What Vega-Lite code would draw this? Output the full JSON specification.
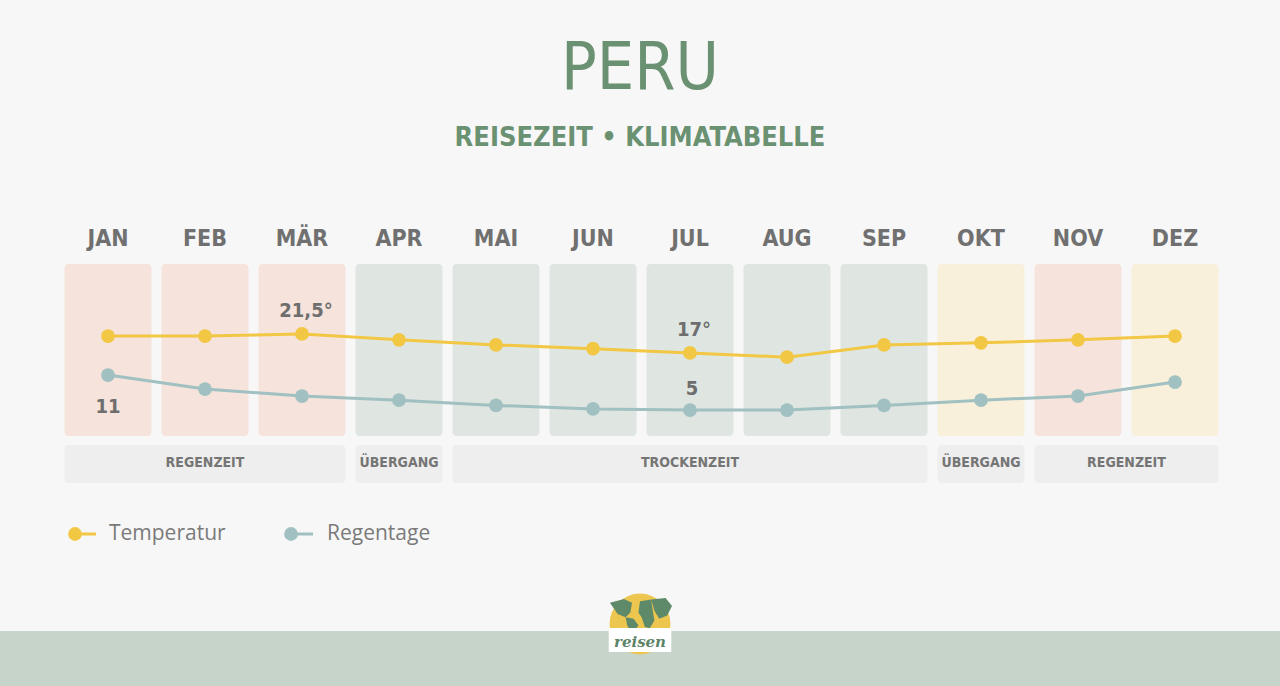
{
  "$schema": "https://vega.github.io/schema/vega-lite/v6.json",
  "width": 1280,
  "height": 686,
  "autosize": {"type": "fit", "contains": "padding"},
  "padding": 0,
  "background": "#f7f7f7",
  "config": {"view": {"stroke": null}},
  "datasets": {
    "monate": [
      {"m": 1, "monat": "JAN", "temp": 21.0, "regen": 11, "empfehlung": "schlecht", "saison": "REGENZEIT", "periode": 1, "t_label": null},
      {"m": 2, "monat": "FEB", "temp": 21.0, "regen": 8.6, "empfehlung": "schlecht", "saison": "REGENZEIT", "periode": 1, "t_label": null},
      {"m": 3, "monat": "MÄR", "temp": 21.5, "regen": 7.4, "empfehlung": "schlecht", "saison": "REGENZEIT", "periode": 1, "t_label": "21,5°"},
      {"m": 4, "monat": "APR", "temp": 20.1, "regen": 6.7, "empfehlung": "gut", "saison": "ÜBERGANG", "periode": 2, "t_label": null},
      {"m": 5, "monat": "MAI", "temp": 18.9, "regen": 5.8, "empfehlung": "gut", "saison": "TROCKENZEIT", "periode": 3, "t_label": null},
      {"m": 6, "monat": "JUN", "temp": 18.0, "regen": 5.2, "empfehlung": "gut", "saison": "TROCKENZEIT", "periode": 3, "t_label": null},
      {"m": 7, "monat": "JUL", "temp": 17.0, "regen": 5, "empfehlung": "gut", "saison": "TROCKENZEIT", "periode": 3, "t_label": "17°"},
      {"m": 8, "monat": "AUG", "temp": 16.0, "regen": 5, "empfehlung": "gut", "saison": "TROCKENZEIT", "periode": 3, "t_label": null},
      {"m": 9, "monat": "SEP", "temp": 18.9, "regen": 5.8, "empfehlung": "gut", "saison": "TROCKENZEIT", "periode": 3, "t_label": null},
      {"m": 10, "monat": "OKT", "temp": 19.4, "regen": 6.7, "empfehlung": "mittel", "saison": "ÜBERGANG", "periode": 4, "t_label": null},
      {"m": 11, "monat": "NOV", "temp": 20.1, "regen": 7.4, "empfehlung": "schlecht", "saison": "REGENZEIT", "periode": 5, "t_label": null},
      {"m": 12, "monat": "DEZ", "temp": 21.0, "regen": 9.8, "empfehlung": "mittel", "saison": "REGENZEIT", "periode": 5, "t_label": null}
    ],
    "titel": [{"titel": "PERU", "untertitel": "REISEZEIT • KLIMATABELLE", "logo": "reisen"}],
    "temp_leg": [{"serie": "Temperatur"}],
    "regen_leg": [{"serie": "Regentage"}]
  },
  "resolve": {"scale": {"y": "independent"}},
  "layer": [
    {
      "data": {"name": "titel"},
      "mark": {"type": "rect", "fill": "#c6d4c9"},
      "encoding": {
        "x": {"datum": -0.1134, "type": "quantitative", "scale": {"domain": [-0.1134, 13.0825], "nice": false, "zero": false}, "axis": null},
        "x2": {"datum": 13.0825},
        "y": {"datum": 631, "type": "quantitative", "scale": {"domain": [0, 686], "reverse": true, "nice": false, "zero": false}, "axis": null},
        "y2": {"datum": 686}
      }
    },
    {
      "data": {"name": "monate"},
      "mark": {"type": "rect", "cornerRadius": 4, "xOffset": -43.5, "x2Offset": 43.5},
      "encoding": {
        "x": {"field": "m", "type": "quantitative", "scale": {"domain": [-0.1134, 13.0825], "nice": false, "zero": false}, "axis": null},
        "x2": {"field": "m"},
        "y": {"datum": 264, "type": "quantitative", "scale": {"domain": [0, 686], "reverse": true, "nice": false, "zero": false}, "axis": null},
        "y2": {"datum": 436},
        "fill": {"field": "empfehlung", "type": "nominal", "scale": {"domain": ["gut", "mittel", "schlecht"], "range": ["#dfe5e0", "#f8f0da", "#f5e3dc"]}, "legend": null}
      }
    },
    {
      "data": {"name": "monate"},
      "mark": {"type": "text", "font": "DejaVu Sans Condensed", "fontWeight": "bold", "fontSize": 23, "color": "#707070", "baseline": "middle", "align": "center"},
      "encoding": {
        "x": {"field": "m", "type": "quantitative", "scale": {"domain": [-0.1134, 13.0825], "nice": false, "zero": false}, "axis": null},
        "y": {"datum": 239, "type": "quantitative", "scale": {"domain": [0, 686], "reverse": true, "nice": false, "zero": false}, "axis": null},
        "text": {"field": "monat"}
      }
    },
    {
      "data": {"name": "monate"},
      "transform": [{"aggregate": [{"op": "min", "field": "m", "as": "von"}, {"op": "max", "field": "m", "as": "bis"}], "groupby": ["periode", "saison"]}],
      "mark": {"type": "rect", "cornerRadius": 4, "xOffset": -43.5, "x2Offset": 43.5, "fill": "#eeeeee"},
      "encoding": {
        "x": {"field": "von", "type": "quantitative", "scale": {"domain": [-0.1134, 13.0825], "nice": false, "zero": false}, "axis": null},
        "x2": {"field": "bis"},
        "y": {"datum": 445, "type": "quantitative", "scale": {"domain": [0, 686], "reverse": true, "nice": false, "zero": false}, "axis": null},
        "y2": {"datum": 483}
      }
    },
    {
      "data": {"name": "monate"},
      "transform": [{"aggregate": [{"op": "mean", "field": "m", "as": "mitte"}], "groupby": ["periode", "saison"]}],
      "mark": {"type": "text", "font": "DejaVu Sans Condensed", "fontWeight": "bold", "fontSize": 14, "color": "#757575", "baseline": "middle", "align": "center"},
      "encoding": {
        "x": {"field": "mitte", "type": "quantitative", "scale": {"domain": [-0.1134, 13.0825], "nice": false, "zero": false}, "axis": null},
        "y": {"datum": 463, "type": "quantitative", "scale": {"domain": [0, 686], "reverse": true, "nice": false, "zero": false}, "axis": null},
        "text": {"field": "saison"}
      }
    },
    {
      "data": {"name": "monate"},
      "mark": {"type": "line", "stroke": "#a0c0c1", "strokeWidth": 3, "point": {"filled": true, "size": 190, "color": "#a0c0c1", "opacity": 1}},
      "encoding": {
        "x": {"field": "m", "type": "quantitative", "scale": {"domain": [-0.1134, 13.0825], "nice": false, "zero": false}, "axis": null},
        "y": {"field": "regen", "type": "quantitative", "scale": {"domain": [-42.3, 75.3], "nice": false, "zero": false}, "axis": null}
      }
    },
    {
      "data": {"name": "monate"},
      "mark": {"type": "line", "stroke": "#f2c744", "strokeWidth": 3, "point": {"filled": true, "size": 190, "color": "#f2c744", "opacity": 1}},
      "encoding": {
        "x": {"field": "m", "type": "quantitative", "scale": {"domain": [-0.1134, 13.0825], "nice": false, "zero": false}, "axis": null},
        "y": {"field": "temp", "type": "quantitative", "scale": {"domain": [-61.9, 100.6], "nice": false, "zero": false}, "axis": null}
      }
    },
    {
      "data": {"name": "monate"},
      "transform": [{"filter": "datum.t_label != null"}],
      "mark": {"type": "text", "font": "DejaVu Sans Condensed", "fontWeight": "bold", "fontSize": 20, "color": "#6e6e6e", "baseline": "middle", "align": "center", "dy": -23, "dx": 4},
      "encoding": {
        "x": {"field": "m", "type": "quantitative", "scale": {"domain": [-0.1134, 13.0825], "nice": false, "zero": false}, "axis": null},
        "y": {"field": "temp", "type": "quantitative", "scale": {"domain": [-61.9, 100.6], "nice": false, "zero": false}, "axis": null},
        "text": {"field": "t_label"}
      }
    },
    {
      "data": {"name": "monate"},
      "transform": [{"filter": "datum.monat == 'JAN'"}],
      "mark": {"type": "text", "font": "DejaVu Sans Condensed", "fontWeight": "bold", "fontSize": 20, "color": "#6e6e6e", "baseline": "middle", "align": "center", "dy": 32},
      "encoding": {
        "x": {"field": "m", "type": "quantitative", "scale": {"domain": [-0.1134, 13.0825], "nice": false, "zero": false}, "axis": null},
        "y": {"field": "regen", "type": "quantitative", "scale": {"domain": [-42.3, 75.3], "nice": false, "zero": false}, "axis": null},
        "text": {"field": "regen"}
      }
    },
    {
      "data": {"name": "monate"},
      "transform": [{"filter": "datum.monat == 'JUL'"}],
      "mark": {"type": "text", "font": "DejaVu Sans Condensed", "fontWeight": "bold", "fontSize": 20, "color": "#6e6e6e", "baseline": "middle", "align": "center", "dy": -21, "dx": 2},
      "encoding": {
        "x": {"field": "m", "type": "quantitative", "scale": {"domain": [-0.1134, 13.0825], "nice": false, "zero": false}, "axis": null},
        "y": {"field": "regen", "type": "quantitative", "scale": {"domain": [-42.3, 75.3], "nice": false, "zero": false}, "axis": null},
        "text": {"field": "regen"}
      }
    },
    {
      "data": {"name": "titel"},
      "mark": {"type": "text", "font": "DejaVu Sans Condensed", "fontSize": 66, "color": "#6b9173", "baseline": "middle", "align": "center"},
      "encoding": {
        "x": {"datum": 6.4846, "type": "quantitative", "scale": {"domain": [-0.1134, 13.0825], "nice": false, "zero": false}, "axis": null},
        "y": {"datum": 69, "type": "quantitative", "scale": {"domain": [0, 686], "reverse": true, "nice": false, "zero": false}, "axis": null},
        "text": {"field": "titel"}
      }
    },
    {
      "data": {"name": "titel"},
      "mark": {"type": "text", "font": "DejaVu Sans Condensed", "fontWeight": "bold", "fontSize": 27, "color": "#6b9173", "baseline": "middle", "align": "center"},
      "encoding": {
        "x": {"datum": 6.4846, "type": "quantitative", "scale": {"domain": [-0.1134, 13.0825], "nice": false, "zero": false}, "axis": null},
        "y": {"datum": 138, "type": "quantitative", "scale": {"domain": [0, 686], "reverse": true, "nice": false, "zero": false}, "axis": null},
        "text": {"field": "untertitel"}
      }
    },
    {
      "data": {"name": "temp_leg"},
      "mark": {"type": "rule", "stroke": "#f2c744", "strokeWidth": 3},
      "encoding": {
        "x": {"datum": 0.66, "type": "quantitative", "scale": {"domain": [-0.1134, 13.0825], "nice": false, "zero": false}, "axis": null},
        "x2": {"datum": 0.877},
        "y": {"datum": 534, "type": "quantitative", "scale": {"domain": [0, 686], "reverse": true, "nice": false, "zero": false}, "axis": null}
      }
    },
    {
      "data": {"name": "temp_leg"},
      "mark": {"type": "point", "filled": true, "size": 190, "color": "#f2c744", "opacity": 1},
      "encoding": {
        "x": {"datum": 0.66, "type": "quantitative", "scale": {"domain": [-0.1134, 13.0825], "nice": false, "zero": false}, "axis": null},
        "y": {"datum": 534, "type": "quantitative", "scale": {"domain": [0, 686], "reverse": true, "nice": false, "zero": false}, "axis": null}
      }
    },
    {
      "data": {"name": "temp_leg"},
      "mark": {"type": "text", "font": "Open Sans", "fontSize": 21, "color": "#7a7a7a", "baseline": "middle", "align": "left"},
      "encoding": {
        "x": {"datum": 1.01, "type": "quantitative", "scale": {"domain": [-0.1134, 13.0825], "nice": false, "zero": false}, "axis": null},
        "y": {"datum": 534, "type": "quantitative", "scale": {"domain": [0, 686], "reverse": true, "nice": false, "zero": false}, "axis": null},
        "text": {"field": "serie"}
      }
    },
    {
      "data": {"name": "regen_leg"},
      "mark": {"type": "rule", "stroke": "#a0c0c1", "strokeWidth": 3},
      "encoding": {
        "x": {"datum": 2.887, "type": "quantitative", "scale": {"domain": [-0.1134, 13.0825], "nice": false, "zero": false}, "axis": null},
        "x2": {"datum": 3.114},
        "y": {"datum": 534, "type": "quantitative", "scale": {"domain": [0, 686], "reverse": true, "nice": false, "zero": false}, "axis": null}
      }
    },
    {
      "data": {"name": "regen_leg"},
      "mark": {"type": "point", "filled": true, "size": 190, "color": "#a0c0c1", "opacity": 1},
      "encoding": {
        "x": {"datum": 2.887, "type": "quantitative", "scale": {"domain": [-0.1134, 13.0825], "nice": false, "zero": false}, "axis": null},
        "y": {"datum": 534, "type": "quantitative", "scale": {"domain": [0, 686], "reverse": true, "nice": false, "zero": false}, "axis": null}
      }
    },
    {
      "data": {"name": "regen_leg"},
      "mark": {"type": "text", "font": "Open Sans", "fontSize": 21, "color": "#7a7a7a", "baseline": "middle", "align": "left"},
      "encoding": {
        "x": {"datum": 3.258, "type": "quantitative", "scale": {"domain": [-0.1134, 13.0825], "nice": false, "zero": false}, "axis": null},
        "y": {"datum": 534, "type": "quantitative", "scale": {"domain": [0, 686], "reverse": true, "nice": false, "zero": false}, "axis": null},
        "text": {"field": "serie"}
      }
    },
    {
      "data": {"name": "titel"},
      "mark": {"type": "point", "filled": true, "size": 3700, "color": "#ecc64e", "opacity": 1},
      "encoding": {
        "x": {"datum": 6.4846, "type": "quantitative", "scale": {"domain": [-0.1134, 13.0825], "nice": false, "zero": false}, "axis": null},
        "y": {"datum": 624, "type": "quantitative", "scale": {"domain": [0, 686], "reverse": true, "nice": false, "zero": false}, "axis": null}
      }
    },
    {
      "data": {"name": "titel"},
      "mark": {"type": "point", "filled": true, "size": 4096, "color": "#5f8a6a", "opacity": 1, "shape": "M-0.94,-0.6 L-0.5,-0.72 L-0.25,-0.6 L-0.3,-0.3 L-0.45,-0.15 L-0.7,-0.25 Z M-0.45,-0.15 L-0.2,-0.1 L-0.05,0.1 L-0.25,0.4 L-0.4,0.1 Z M0.0,-0.65 L0.35,-0.7 L0.4,-0.35 L0.45,-0.05 L0.3,0.2 L0.15,0.15 L0.05,-0.15 L-0.05,-0.3 Z M0.35,-0.7 L0.8,-0.75 L1.0,-0.5 L0.85,-0.2 L0.6,-0.1 L0.45,-0.35 Z"},
      "encoding": {
        "x": {"datum": 6.4846, "type": "quantitative", "scale": {"domain": [-0.1134, 13.0825], "nice": false, "zero": false}, "axis": null},
        "y": {"datum": 622, "type": "quantitative", "scale": {"domain": [0, 686], "reverse": true, "nice": false, "zero": false}, "axis": null}
      }
    },
    {
      "data": {"name": "titel"},
      "mark": {"type": "rect", "fill": "#ffffff"},
      "encoding": {
        "x": {"datum": 6.162, "type": "quantitative", "scale": {"domain": [-0.1134, 13.0825], "nice": false, "zero": false}, "axis": null},
        "x2": {"datum": 6.807},
        "y": {"datum": 628, "type": "quantitative", "scale": {"domain": [0, 686], "reverse": true, "nice": false, "zero": false}, "axis": null},
        "y2": {"datum": 652}
      }
    },
    {
      "data": {"name": "titel"},
      "mark": {"type": "text", "font": "DejaVu Serif", "fontStyle": "italic", "fontWeight": "bold", "fontSize": 15, "color": "#5d8466", "baseline": "middle", "align": "center"},
      "encoding": {
        "x": {"datum": 6.4846, "type": "quantitative", "scale": {"domain": [-0.1134, 13.0825], "nice": false, "zero": false}, "axis": null},
        "y": {"datum": 642, "type": "quantitative", "scale": {"domain": [0, 686], "reverse": true, "nice": false, "zero": false}, "axis": null},
        "text": {"field": "logo"}
      }
    }
  ]
}
